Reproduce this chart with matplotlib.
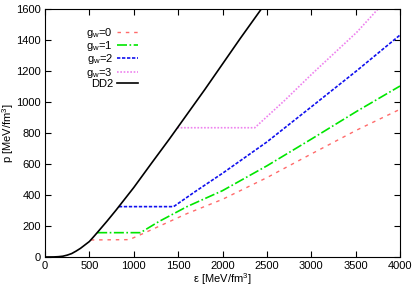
import matplotlib
matplotlib.use("Agg")
import matplotlib.pyplot as plt

plt.rcParams['font.family'] = ['Liberation Sans', 'DejaVu Sans']
plt.rcParams['mathtext.default'] = 'regular'
plt.rcParams['font.size'] = 8

# DD2 (hadronic EoS)
dd2_eps = [0, 100, 150, 200, 250, 300, 350, 400, 450, 500, 550, 600, 700, 800, 900,
           1000, 1200, 1400, 1600, 1800, 2000, 2200, 2450]
dd2_p = [0, 0.5, 2, 5, 12, 22, 38, 56, 78, 100, 132, 165, 232, 302, 375,
         448, 605, 760, 920, 1080, 1245, 1410, 1610]

# g_w = 0
g0_eps = [516, 950, 1100, 1277, 1600, 2000, 2500, 3008, 3513, 4000]
g0_p = [110, 112, 150, 196, 280, 372, 512, 667, 819, 953]

# g_w = 1
g1_eps = [588, 1076, 1281, 1600, 2000, 2500, 3008, 3513, 4000]
g1_p = [157, 157, 228, 325, 428, 588, 763, 940, 1103]

# g_w = 2
g2_eps = [832, 1449, 1700, 2000, 2500, 3008, 3513, 4000]
g2_p = [325, 325, 425, 540, 742, 972, 1202, 1432]

# g_w = 3
g3_eps = [1492, 2364, 2700, 3008, 3513, 3800]
g3_p = [834, 834, 1010, 1181, 1450, 1630]

fig = plt.figure(figsize=(4.15, 2.91), dpi=100)
ax = fig.add_axes([45/415, 1-257/291, 355/415, 248/291])

ax.plot(g0_eps, g0_p, color='#ff6a6a', ls=(0, (2.5, 3.5)), lw=1, label=r'g$_w$=0')
ax.plot(g1_eps, g1_p, color='#00e600', ls=(0, (6, 1.5, 1, 1.5)), lw=1.2, label=r'g$_w$=1')
ax.plot(g2_eps, g2_p, color='#1010ee', ls=(0, (2, 1)), lw=1.2, label=r'g$_w$=2')
ax.plot(g3_eps, g3_p, color='#ee82ee', ls=(0, (1, 1)), lw=1.2, label=r'g$_w$=3')
ax.plot(dd2_eps, dd2_p, color='black', lw=1.2, label='DD2')

ax.set_xlim(0, 4000)
ax.set_ylim(0, 1600)
ax.set_xticks(range(0, 4001, 500))
ax.set_yticks(range(0, 1601, 200))
ax.tick_params(direction='in', top=True, right=True, length=4, width=0.8, pad=3)
ax.set_xlabel(r'ε [MeV/fm$^3$]', labelpad=0)
ax.set_ylabel(r'p [MeV/fm$^3$]')
ax.yaxis.set_label_coords(-0.081, 0.5)

ax.legend(loc='upper left', bbox_to_anchor=(0.101, 0.955), frameon=False, markerfirst=False,
          handlelength=1.9, handletextpad=0.4, labelspacing=-0.06, borderpad=0)

fig.savefig('out.png', dpi=100)
